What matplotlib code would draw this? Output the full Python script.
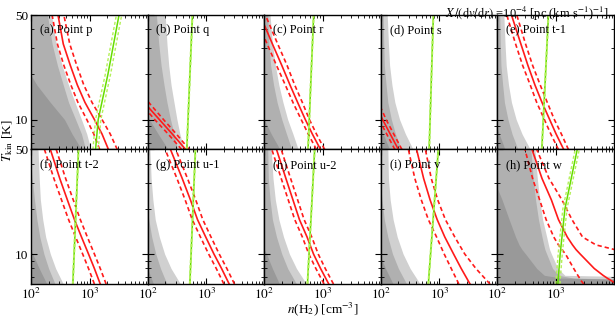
import numpy as np
import matplotlib
matplotlib.use('Agg')
import matplotlib.pyplot as plt
from matplotlib.ticker import FixedLocator, NullFormatter, FixedFormatter

plt.rcParams['font.family'] = ['Liberation Serif', 'DejaVu Serif']
plt.rcParams['mathtext.fontset'] = 'stix'

# ---------------- data (log10 n(H2) at given T_kin) ----------------
PANEL_LABELS = ['(a) Point p', '(b) Point q', '(c) Point r', '(d) Point s', '(e) Point t-1',
                '(f) Point t-2', '(g) Point u-1', '(h) Point u-2', '(i) Point v', '(h) Point w']

T_GRID = [6.3, 8, 10, 13, 17, 23, 32, 50]          # panels a..i
T_W = [6.3, 6.6, 6.9, 7.2, 8, 10, 10.7, 11.5, 13, 17, 23, 32, 50]  # panel w
T_GREEN = [6.3, 10, 20, 50]

red_mid = [
    [3.32, 3.21, 3.08, 2.92, 2.79, 2.67, 2.55, 2.46],
    [2.65, 2.42, 2.20, 1.94, 1.70, 1.45, 1.20, 0.80],
    [2.96, 2.82, 2.70, 2.57, 2.44, 2.30, 2.14, 1.93],
    [2.30, 2.16, 2.03, 1.90, 1.70, 1.50, 1.30, 1.10],
    [3.13, 3.00, 2.89, 2.76, 2.64, 2.52, 2.40, 2.24],
    [3.18, 3.08, 2.98, 2.86, 2.74, 2.62, 2.49, 2.33],
    [3.39, 3.26, 3.13, 2.99, 2.85, 2.73, 2.59, 2.39],
    [3.10, 2.96, 2.84, 2.73, 2.60, 2.49, 2.37, 2.21],
    [3.52, 3.37, 3.24, 3.09, 2.96, 2.84, 2.73, 2.61],
]
red_lo = [
    [3.17, 3.07, 2.95, 2.80, 2.68, 2.56, 2.45, 2.36],
    [2.58, 2.35, 2.12, 1.87, 1.63, 1.38, 1.13, 0.73],
    [2.89, 2.75, 2.63, 2.49, 2.36, 2.21, 2.05, 1.84],
    [2.24, 2.10, 1.97, 1.84, 1.64, 1.44, 1.24, 1.04],
    [3.04, 2.91, 2.80, 2.67, 2.56, 2.43, 2.31, 2.16],
    [3.08, 2.98, 2.88, 2.76, 2.64, 2.52, 2.39, 2.23],
    [3.30, 3.17, 3.04, 2.90, 2.76, 2.64, 2.50, 2.30],
    [3.02, 2.88, 2.76, 2.65, 2.52, 2.41, 2.29, 2.13],
    [3.33, 3.20, 3.08, 2.95, 2.81, 2.69, 2.58, 2.47],
]
red_hi = [
    [3.47, 3.35, 3.21, 3.04, 2.90, 2.78, 2.66, 2.56],
    [2.71, 2.49, 2.27, 2.02, 1.78, 1.52, 1.27, 0.87],
    [3.03, 2.89, 2.77, 2.65, 2.52, 2.39, 2.23, 2.02],
    [2.36, 2.22, 2.09, 1.96, 1.76, 1.56, 1.36, 1.16],
    [3.21, 3.09, 2.97, 2.85, 2.73, 2.60, 2.48, 2.33],
    [3.28, 3.18, 3.08, 2.96, 2.84, 2.72, 2.59, 2.43],
    [3.48, 3.35, 3.22, 3.08, 2.94, 2.82, 2.68, 2.48],
    [3.18, 3.04, 2.92, 2.81, 2.68, 2.57, 2.45, 2.29],
    [3.86, 3.62, 3.43, 3.26, 3.10, 2.97, 2.86, 2.76],
]
grey_dark = [
    [2.86, 2.70, 2.57, 2.33, 2.10, 1.90, 1.70, 1.50],
    [2.35, 2.18, 2.03, 1.85, 1.70, 1.50, 1.30, 1.10],
    [2.27, 2.12, 2.00, 1.85, 1.70, 1.50, 1.30, 1.10],
    [2.15, 2.04, 1.95, 1.80, 1.60, 1.40, 1.20, 1.00],
    [2.13, 2.03, 1.95, 1.80, 1.60, 1.40, 1.20, 1.00],
    [2.27, 2.14, 2.03, 1.90, 1.70, 1.50, 1.30, 1.10],
    [2.10, 2.00, 1.90, 1.80, 1.60, 1.40, 1.20, 1.00],
    [2.26, 2.14, 2.04, 1.90, 1.70, 1.50, 1.30, 1.10],
    [2.21, 2.08, 1.98, 1.85, 1.70, 1.50, 1.30, 1.10],
]
grey_mid = [
    [2.93, 2.86, 2.76, 2.64, 2.55, 2.45, 2.36, 2.28],
    [2.51, 2.45, 2.39, 2.33, 2.28, 2.23, 2.19, 2.15],
    [2.47, 2.38, 2.30, 2.22, 2.16, 2.11, 2.08, 2.06],
    [2.35, 2.25, 2.18, 2.12, 2.09, 2.06, 2.05, 2.04],
    [2.35, 2.25, 2.18, 2.12, 2.09, 2.06, 2.05, 2.04],
    [2.41, 2.30, 2.22, 2.15, 2.10, 2.06, 2.02, 1.98],
    [2.33, 2.22, 2.14, 2.07, 2.02, 1.98, 1.95, 1.92],
    [2.55, 2.40, 2.30, 2.21, 2.14, 2.10, 2.07, 2.06],
    [2.44, 2.30, 2.20, 2.12, 2.06, 2.02, 1.99, 1.97],
]
grey_light = [
    [3.02, 2.95, 2.86, 2.75, 2.64, 2.53, 2.43, 2.35],
    [2.62, 2.55, 2.50, 2.45, 2.40, 2.36, 2.33, 2.30],
    [2.58, 2.49, 2.40, 2.32, 2.25, 2.19, 2.14, 2.10],
    [2.55, 2.42, 2.32, 2.24, 2.19, 2.15, 2.13, 2.11],
    [2.56, 2.42, 2.32, 2.24, 2.19, 2.15, 2.13, 2.11],
    [2.55, 2.42, 2.33, 2.25, 2.20, 2.16, 2.14, 2.12],
    [2.56, 2.40, 2.29, 2.20, 2.13, 2.09, 2.06, 2.04],
    [2.72, 2.55, 2.43, 2.33, 2.25, 2.19, 2.15, 2.12],
    [2.67, 2.50, 2.38, 2.28, 2.21, 2.16, 2.13, 2.12],
]

# panel w (own temperature grid)
w_red_mid = [4.03, 3.95, 3.87, 3.80, 3.65, 3.41, 3.34, 3.28, 3.19, 3.04, 2.92, 2.76, 2.59]
w_red_lo = [3.47, 3.43, 3.40, 3.37, 3.30, 3.16, 3.10, 3.04, 2.96, 2.83, 2.72, 2.60, 2.47]
w_red_hi = [5.5, 5.5, 5.5, 5.5, 5.5, 5.5, 4.00, 3.68, 3.45, 3.27, 3.10, 2.88, 2.67]
w_grey_dark = [5.5, 5.5, 3.10, 2.80, 2.67, 2.48, 2.42, 2.37, 2.31, 2.20, 2.08, 1.93, 1.60]
w_grey_mid = [5.5, 5.5, 3.30, 3.05, 2.94, 2.84, 2.81, 2.79, 2.76, 2.70, 2.65, 2.61, 2.57]
w_grey_light = [5.5, 5.5, 5.5, 3.15, 3.03, 2.92, 2.89, 2.87, 2.84, 2.77, 2.72, 2.68, 2.64]

green_mid = [
    [3.10, 3.145, 3.31, 3.50],
    [2.668, 2.689, 2.721, 2.764],
    [2.747, 2.768, 2.800, 2.843],
    [2.824, 2.840, 2.864, 2.896],
    [2.757, 2.782, 2.820, 2.870],
    [2.713, 2.735, 2.767, 2.810],
    [2.720, 2.741, 2.773, 2.815],
    [2.737, 2.764, 2.806, 2.860],
    [2.810, 2.848, 2.905, 2.980],
    [3.03, 3.07, 3.15, 3.36],
]
green_spread = [0.045, 0.006, 0.006, 0.006, 0.006, 0.006, 0.006, 0.006, 0.006, 0.035]

# ---------------- figure ----------------
W, H = 615, 317
fig = plt.figure(figsize=(W / 100, H / 100), dpi=100)
left, right = 31 / W, 614 / W
top, bottom = 1 - 15 / H, 1 - 284 / H
gs = fig.add_gridspec(2, 5, left=left, right=right, top=top, bottom=bottom, wspace=0, hspace=0)

C_DARK, C_MID, C_LIGHT = '#999999', '#b0b0b0', '#d0d0d0'
RED = '#ff1a1a'
GREEN = '#66dd00'
GREEN_D = '#b4f05a'

for k in range(10):
    r, c = divmod(k, 5)
    ax = fig.add_subplot(gs[r, c])
    ax.set_xscale('log')
    ax.set_yscale('log')
    if k < 9:
        T = np.array(T_GRID)
        gd, gm, gl = grey_dark[k], grey_mid[k], grey_light[k]
        rm, rl, rh = red_mid[k], red_lo[k], red_hi[k]
    else:
        T = np.array(T_W)
        gd, gm, gl = w_grey_dark, w_grey_mid, w_grey_light
        rm, rl, rh = w_red_mid, w_red_lo, w_red_hi
    ax.fill_betweenx(T, 10.0, 10 ** np.array(gl), color=C_LIGHT, lw=0)
    ax.fill_betweenx(T, 10.0, 10 ** np.array(gm), color=C_MID, lw=0)
    ax.fill_betweenx(T, 10.0, 10 ** np.array(gd), color=C_DARK, lw=0)

    for arr in (rl, rh):
        ax.plot(10 ** np.array(arr), T, color=RED, lw=1.2, ls=(0, (2.6, 1.8)))
    ax.plot(10 ** np.array(rm), T, color=RED, lw=1.2)

    g = np.array(green_mid[k])
    s = green_spread[k]
    ax.plot(10 ** g, T_GREEN, color=GREEN, lw=1.1)
    for off in (-s, s):
        ax.plot(10 ** (g + off), T_GREEN, color=GREEN_D, lw=1.0, ls=(0, (2.2, 1.6)))

    ax.set_xlim(100, 9700)
    ax.set_ylim(6.3, 50)

    ax.xaxis.set_major_locator(FixedLocator([100, 1000]))
    ax.xaxis.set_minor_locator(FixedLocator([200, 300, 400, 500, 600, 700, 800, 900,
                                             2000, 3000, 4000, 5000, 6000, 7000, 8000, 9000]))
    ax.yaxis.set_major_locator(FixedLocator([10, 50]))
    ax.yaxis.set_minor_locator(FixedLocator([7, 8, 9, 20, 30, 40]))
    ax.xaxis.set_minor_formatter(NullFormatter())
    ax.yaxis.set_minor_formatter(NullFormatter())
    if r == 1:
        ax.xaxis.set_major_formatter(FixedFormatter([r'$10^2$', r'$10^3$']))
    else:
        ax.xaxis.set_major_formatter(NullFormatter())
    if c == 0:
        ax.yaxis.set_major_formatter(FixedFormatter(['10', '50']))
    else:
        ax.yaxis.set_major_formatter(NullFormatter())
    ax.tick_params(which='both', direction='in', top=True, right=True, labelsize=9.5, pad=2)
    ax.tick_params(which='major', length=4.5, width=0.8)
    ax.tick_params(which='minor', length=2.5, width=0.6)
    for sp in ax.spines.values():
        sp.set_linewidth(1.0)

    ax.text(0.075, 0.93, PANEL_LABELS[k], transform=ax.transAxes, fontsize=9,
            ha='left', va='top')

fig.text(0.5 * (left + right), 0.024, r'$n$(H$_2$) [cm$^{-3}$]', ha='center', va='center', fontsize=9.5)
fig.text(0.012, 0.555, r'$T_{\rm kin}$ [K]', ha='center', va='center', rotation=90, fontsize=9.5)
fig.text(0.99, 0.985, r'$X\,/(\mathrm{d}v/\mathrm{d}r)$ =10$^{-4}$ [pc (km s$^{-1}$)$^{-1}$]',
         ha='right', va='top', fontsize=9)

fig.savefig('out.png', dpi=100)
